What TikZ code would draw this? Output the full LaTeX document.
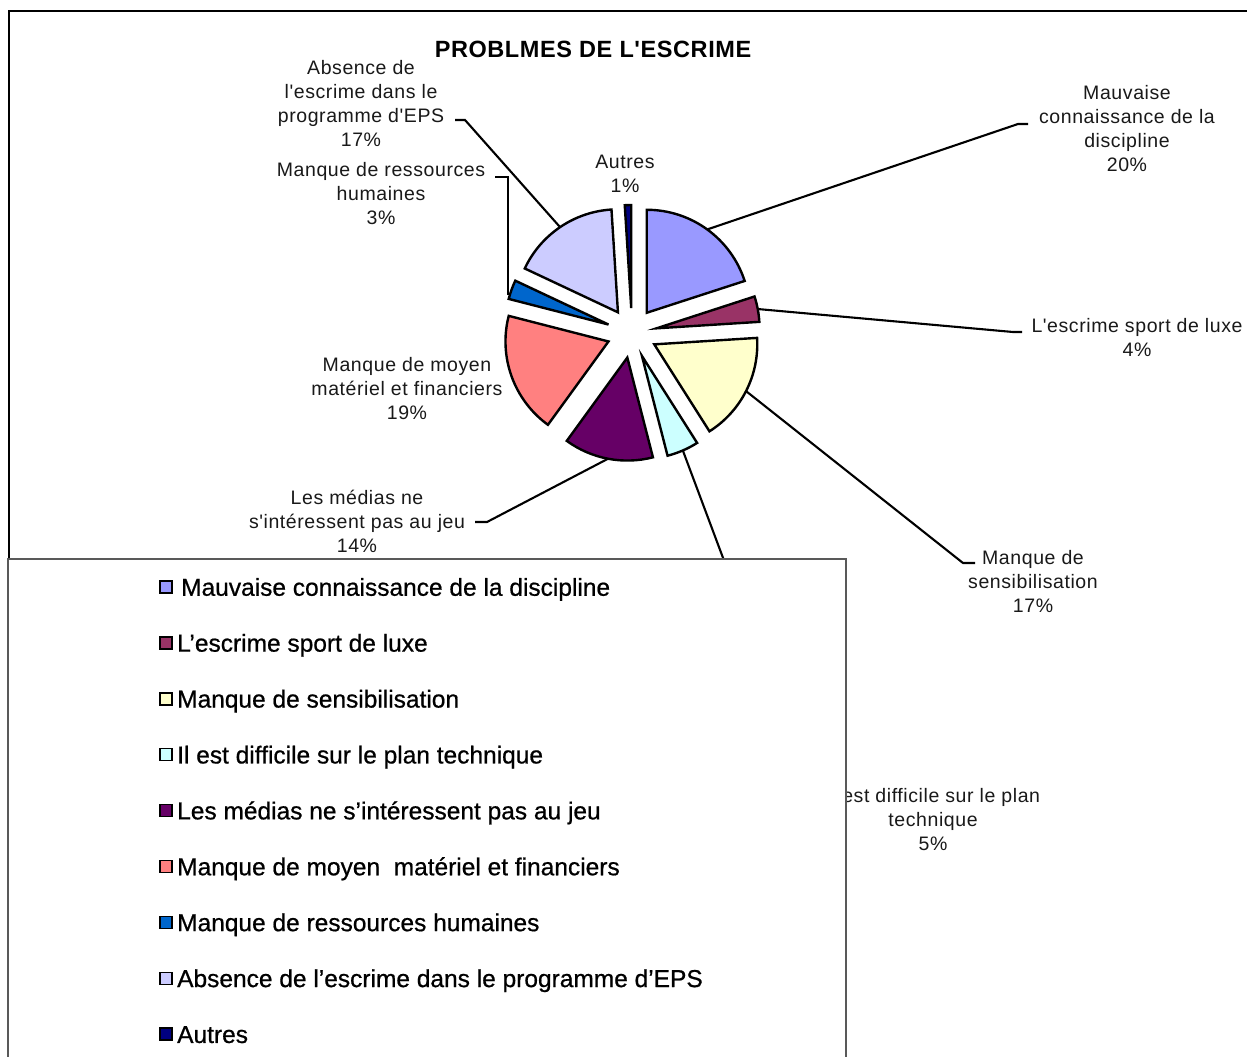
\documentclass[tikz,border=0pt]{standalone}
\usepackage{fontspec}
\setmainfont{Liberation Sans}
\newfontfamily\lblfont[LetterSpace=3]{Liberation Sans}
\newfontfamily\ttlfont[LetterSpace=2.5]{Liberation Sans}
\newfontfamily\legfont[FakeBold=0.7]{Liberation Sans}
\definecolor{c1}{HTML}{9999FF}
\definecolor{c2}{HTML}{993366}
\definecolor{c3}{HTML}{FFFFCC}
\definecolor{c4}{HTML}{CCFFFF}
\definecolor{c5}{HTML}{660066}
\definecolor{c6}{HTML}{FF8080}
\definecolor{c7}{HTML}{0066CC}
\definecolor{c8}{HTML}{CCCCFF}
\definecolor{c9}{HTML}{000080}
\tikzset{
 slice/.style={draw=black, line width=2.4pt, line join=miter},
 leader/.style={draw=black, line width=2.1pt},
 lbl/.style={font=\lblfont\fontsize{19.5}{24}\selectfont, align=center, inner sep=0pt, anchor=north, text=black!90},
 legtext/.style={font=\legfont\fontsize{24.5}{28}\selectfont, inner sep=0pt, anchor=west, text height=17.5pt, text depth=0pt},
 legsq/.style={draw=black, line width=1.5pt, minimum size=12pt, inner sep=0pt},
 ttl/.style={font=\ttlfont\bfseries\fontsize{23.5}{28}\selectfont, inner sep=0pt, anchor=base},
}
\begin{document}
\begin{tikzpicture}[x=1pt, y=-1pt]
\useasboundingbox (0,0) rectangle (1247,1057);
\clip (0,0) rectangle (1247,1057);
\fill[white] (0,0) rectangle (1247,1057);
% chart frame
\draw[black, line width=1.6pt] (9,1070) -- (9,11) -- (1260,11);
% title
\node[ttl] (title) at (593,57.5) {PROBLMES DE L'ESCRIME};
% pie slices
\foreach \a/\b/\col/\nm in {0/72/c1/s1, 72/86.4/c2/s2, 86.4/147.6/c3/s3, 147.6/165.6/c4/s4, 165.6/216/c5/s5, 216/284.4/c6/s6, 284.4/295.2/c7/s7, 295.2/356.4/c8/s8, 356.4/360/c9/s9}{
  \pgfmathsetmacro\sm{(\a+\b)/2-90}
  \pgfmathsetmacro\sa{\a-90}
  \pgfmathsetmacro\sb{\b-90}
  \draw[slice, fill=\col] ([shift={(\sm:25)}]632,333) -- ++(\sa:103) arc[start angle=\sa, end angle=\sb, radius=103] -- cycle;
  \coordinate (\nm) at ([shift={(\sm:128)}]632,333);
}
\coordinate (r7) at (508,295);
% labels
\node[lbl] (L8) at (361,60) {Absence de\\l'escrime dans le\\programme d'EPS\\17\%};
\node[lbl] (L7) at (381,162) {Manque de ressources\\humaines\\3\%};
\node[lbl] (L9) at (625,155) {Autres\\1\%};
\node[lbl] (L1) at (1127,85) {Mauvaise\\connaissance de la\\discipline\\20\%};
\node[lbl] (L2) at (1137,318) {L'escrime sport de luxe\\4\%};
\node[lbl] (L3) at (1033,550) {Manque de\\sensibilisation\\17\%};
\node[lbl] (L4) at (933,788) {Il est difficile sur le plan\\technique\\5\%};
\node[lbl] (L5) at (357,490) {Les médias ne\\s'intéressent pas au jeu\\14\%};
\node[lbl] (L6) at (407,357) {Manque de moyen\\matériel et financiers\\19\%};
% leader lines
\coordinate (b1) at (1018,124); \coordinate (e1) at (1028,124);
\coordinate (b2) at (1013,332); \coordinate (e2) at (1022,332);
\coordinate (b3) at (963,563);  \coordinate (e3) at (975,563);
\coordinate (b4) at (808,785);  \coordinate (e4) at (815,785);
\coordinate (b5) at (487,522);  \coordinate (e5) at (475,522);
\coordinate (e7) at (495,177);
\coordinate (b8) at (465,120);  \coordinate (e8) at (455,120);
\draw[leader] (s1) -- (b1) -- (e1);
\draw[leader] (s2) -- (b2) -- (e2);
\draw[leader] (s3) -- (b3) -- (e3);
\draw[leader] (s4) -- (b4) -- (e4);
\draw[leader] (s5) -- (b5) -- (e5);
\draw[leader] (r7) |- (e7);
\draw[leader] (s8) -- (b8) -- (e8);
% legend
\draw[draw=black!65, line width=1.6pt, fill=white] (8,559) rectangle (846,1075);
\foreach \i/\col/\txt in {0/c1/{\hspace{4pt}Mauvaise connaissance de la discipline}, 1/c2/{L’escrime sport de luxe}, 2/c3/{Manque de sensibilisation}, 3/c4/{Il est difficile sur le plan technique}, 4/c5/{Les médias ne s’intéressent pas au jeu}, 5/c6/{Manque de moyen\ \ matériel et financiers}, 6/c7/{Manque de ressources humaines}, 7/c8/{Absence de l’escrime dans le programme d’EPS}, 8/c9/{Autres}}{
  \pgfmathsetmacro\ry{587+55.9*\i}
  \node[legsq, fill=\col] (q\i) at (166,\ry) {};
  \node[legtext] (t\i) at (177,\ry) {\txt};
}
\end{tikzpicture}
\end{document}
